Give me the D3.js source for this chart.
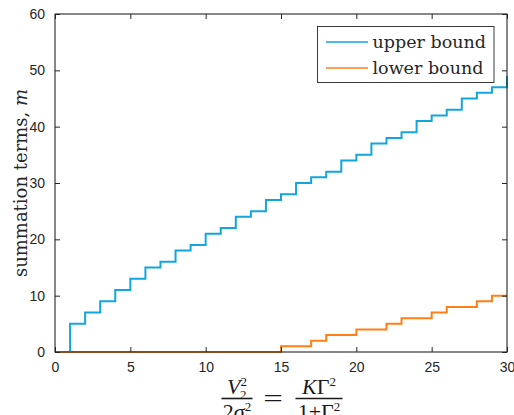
<!DOCTYPE html>
<html>
<head>
<meta charset="utf-8">
<script src="https://cdn.jsdelivr.net/npm/d3@7"></script>
<style>
  body { margin: 0; background: #fff; }
  svg { display: block; }
</style>
</head>
<body>
<div id="chart"></div>
<script>
// data
let xValues = [0, 1, 2, 3, 4, 5, 6, 7, 8, 9, 10, 11, 12, 13, 14, 15,
  16, 17, 18, 19, 20, 21, 22, 23, 24, 25, 26, 27, 28, 29, 30];
let upperBound = [0, 5, 7, 9, 11, 13, 15, 16, 18, 19, 21, 22, 24, 25, 27, 28,
  30, 31, 32, 34, 35, 37, 38, 39, 41, 42, 43, 45, 46, 47, 49];
let lowerBound = [0, 0, 0, 0, 0, 0, 0, 0, 0, 0, 0, 0, 0, 0, 0, 1,
  1, 2, 3, 3, 4, 4, 5, 6, 6, 7, 8, 8, 9, 10, 10];
let xTicks = [0, 5, 10, 15, 20, 25, 30];
let yTicks = [0, 10, 20, 30, 40, 50, 60];
let seriesNames = ["upper bound", "lower bound"];
let seriesColors = ["#13a6de", "#ff7f17"];

let width = 514;
let height = 415;
let padding = { left: 55, right: 7, top: 14, bottom: 63 };

let xScale = d3.scaleLinear()
  .domain([0, 30])
  .range([padding.left, width - padding.right]);
let yScale = d3.scaleLinear()
  .domain([0, 60])
  .range([height - padding.bottom, padding.top]);

let svg = d3.select("#chart")
  .append("svg")
  .attr("width", width)
  .attr("height", height);

let axisColor = "#262626";
let tickFont = "'Liberation Sans', Arial, sans-serif";
let serifFont = "'DejaVu Serif', serif";
let mathFont = "'Liberation Serif', 'Times New Roman', serif";

// lines (step after each point)
let line = d3.line()
  .x((d, i) => xScale(xValues[i]))
  .y(d => yScale(d))
  .curve(d3.curveStepAfter);

[upperBound, lowerBound].forEach((series, k) => {
  svg.append("path")
    .datum(series)
    .attr("fill", "none")
    .attr("stroke", seriesColors[k])
    .attr("stroke-width", 2)
    .attr("d", line);
});

// axes, ticks inward on all four sides
let x0 = xScale.range()[0], x1 = xScale.range()[1];
let y0 = yScale.range()[0], y1 = yScale.range()[1];

svg.append("g")
  .attr("transform", `translate(0, ${y0})`)
  .call(d3.axisBottom(xScale).tickValues(xTicks).tickSizeInner(-5).tickSizeOuter(0).tickPadding(10))
  .call(g => g.select(".domain").remove());
svg.append("g")
  .attr("transform", `translate(0, ${y1})`)
  .call(d3.axisTop(xScale).tickValues(xTicks).tickSizeInner(-5).tickSizeOuter(0).tickFormat(""))
  .call(g => g.select(".domain").remove());
svg.append("g")
  .attr("transform", `translate(${x0}, 0)`)
  .call(d3.axisLeft(yScale).tickValues(yTicks).tickSizeInner(-5).tickSizeOuter(0).tickPadding(10))
  .call(g => g.select(".domain").remove());
svg.append("g")
  .attr("transform", `translate(${x1}, 0)`)
  .call(d3.axisRight(yScale).tickValues(yTicks).tickSizeInner(-5).tickSizeOuter(0).tickFormat(""))
  .call(g => g.select(".domain").remove());

svg.selectAll(".tick line").attr("stroke", axisColor).attr("stroke-width", 1);
svg.selectAll(".tick text")
  .attr("fill", axisColor)
  .style("font-family", tickFont)
  .style("font-size", "14px");

// box
svg.append("rect")
  .attr("x", x0)
  .attr("y", y1)
  .attr("width", x1 - x0)
  .attr("height", y0 - y1)
  .attr("fill", "none")
  .attr("stroke", axisColor)
  .attr("stroke-width", 1.1);

// y label
svg.append("text")
  .attr("transform", `translate(27, ${(y0 + y1) / 2}) rotate(-90)`)
  .attr("text-anchor", "middle")
  .style("font-family", serifFont)
  .style("font-size", "18px")
  .attr("fill", axisColor)
  .call(t => {
    t.append("tspan").text("summation terms, ");
    t.append("tspan").style("font-style", "italic").text("m");
  });

// x label: V2^2 / 2σ^2 = KΓ^2 / (1+Γ^2)
let xl = svg.append("g")
  .style("font-family", mathFont)
  .attr("fill", "#1a1a1a");

function frac(cx, num, den, barW) {
  xl.append("line")
    .attr("x1", cx - barW / 2).attr("x2", cx + barW / 2)
    .attr("y1", 398.5).attr("y2", 398.5)
    .attr("stroke", "#1a1a1a").attr("stroke-width", 1.6);
  let n = xl.append("text").attr("x", cx).attr("y", 394)
    .attr("text-anchor", "middle").style("font-size", "22px");
  num(n);
  let d = xl.append("text").attr("x", cx).attr("y", 419)
    .attr("text-anchor", "middle").style("font-size", "22px");
  den(d);
}

frac(237, n => {
  n.append("tspan").style("font-style", "italic").text("V");
  n.append("tspan").attr("dy", -8).style("font-size", "13px").text("2");
  n.append("tspan").attr("dx", -7).attr("dy", 13).style("font-size", "13px").text("2");
}, d => {
  d.append("tspan").text("2");
  d.append("tspan").style("font-style", "italic").text("σ");
  d.append("tspan").attr("dy", -8).style("font-size", "13px").text("2");
}, 31);

xl.append("text")
  .attr("transform", "translate(273, 406) scale(1.45, 1)")
  .attr("text-anchor", "middle")
  .style("font-size", "24px")
  .text("=");

frac(319, n => {
  n.append("tspan").style("font-style", "italic").text("K");
  n.append("tspan").text("Γ");
  n.append("tspan").attr("dy", -8).style("font-size", "13px").text("2");
}, d => {
  d.append("tspan").text("1+Γ");
  d.append("tspan").attr("dy", -8).style("font-size", "13px").text("2");
}, 47);

// legend
let legend = svg.append("g");
legend.append("rect")
  .attr("x", 317.5).attr("y", 26.5)
  .attr("width", 176.5).attr("height", 56)
  .attr("fill", "#fff")
  .attr("stroke", axisColor)
  .attr("stroke-width", 0.9);

seriesNames.forEach((name, i) => {
  let yy = 42 + i * 26;
  legend.append("line")
    .attr("x1", 326).attr("x2", 368)
    .attr("y1", yy).attr("y2", yy)
    .attr("stroke", seriesColors[i])
    .attr("stroke-width", 1.5);
  legend.append("text")
    .attr("x", 372.5).attr("y", yy + 5.5)
    .style("font-family", serifFont)
    .style("font-size", "17.5px")
    .attr("fill", axisColor)
    .text(name);
});
</script>
</body>
</html>
